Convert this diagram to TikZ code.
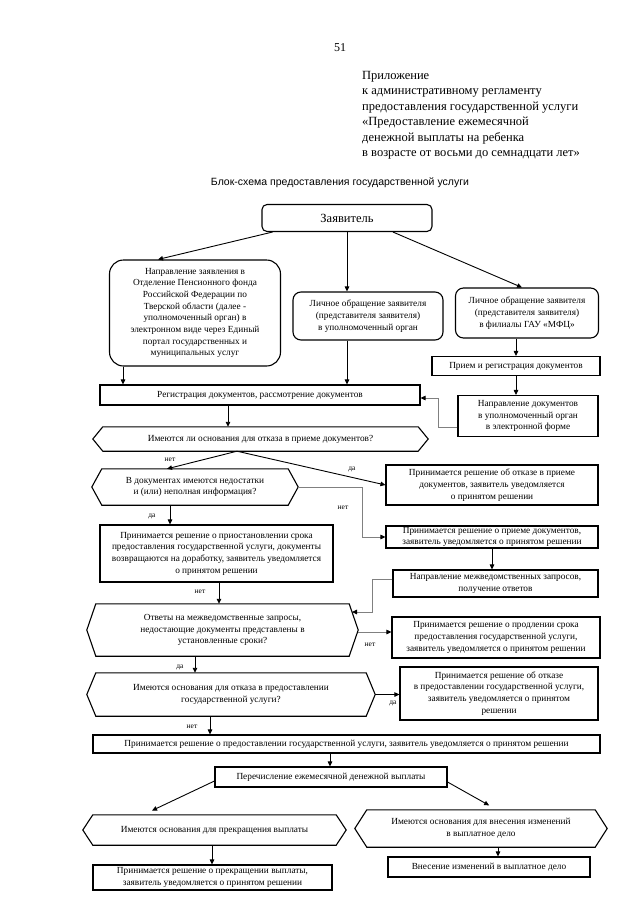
\documentclass[tikz,border=0pt]{standalone}
\usepackage{fontspec}
\setmainfont{Liberation Serif}
\newfontfamily\titlefont{Liberation Sans}
\usetikzlibrary{arrows.meta}
\newcommand\myhex[2]{\draw[line width=1.1pt] (#1.west) -- ([xshift=#2]#1.north west) -- ([xshift=-#2]#1.north east) -- (#1.east) -- ([xshift=-#2]#1.south east) -- ([xshift=#2]#1.south west) -- cycle;}
\begin{document}
\begin{tikzpicture}[x=1pt,y=-1pt,
  box/.style={draw=black, line width=1.1pt, align=center, inner sep=1pt, font=\fontsize{9.3}{11.7}\selectfont},
  rbox/.style={box, rounded corners=#1},
  hexnode/.style={align=center, inner sep=1pt, font=\fontsize{9.3}{11.7}\selectfont},
  conn/.style={line width=0.9pt, -{Triangle[length=5pt,width=4.5pt]}},
  gconn/.style={line width=0.9pt, draw=black!50, -{Triangle[length=5pt,width=4.5pt,color=black]}},
  lbl/.style={font=\fontsize{7.5}{9}\selectfont, inner sep=0pt},
]
\useasboundingbox[fill=white] (0,0) rectangle (640,905);

% header
\node[font=\fontsize{12}{14}\selectfont] (n51) at (340,48) {51};
\node[anchor=north west, align=left, inner sep=0pt, font=\fontsize{12.5}{15.5}\selectfont] (app) at (362,71)
 {Приложение\\ к административному регламенту\\ предоставления государственной услуги\\ «Предоставление ежемесячной\\ денежной выплаты на ребенка\\ в возрасте от восьми до семнадцати лет»};
\node[font=\titlefont\fontsize{10.5}{12}\selectfont] (title) at (340,183) {Блок-схема предоставления государственной услуги};

% nodes
\node[rbox=5pt, minimum width=170, minimum height=27, font=\fontsize{12.5}{14}\selectfont] (zaj) at (347,218) {Заявитель};
\node[rbox=14pt, minimum width=171, minimum height=106] (a) at (195,313) {Направление заявления в\\ Отделение Пенсионного фонда\\ Российской Федерации по\\ Тверской области (далее -\\ уполномоченный орган) в\\ электронном виде через Единый\\ портал государственных и\\ муниципальных услуг};
\node[rbox=8pt, minimum width=150, minimum height=48] (b) at (368,316) {Личное обращение заявителя\\ (представителя заявителя)\\ в уполномоченный орган};
\node[rbox=8pt, minimum width=143, minimum height=50] (c) at (527,313) {Личное обращение заявителя\\ (представителя заявителя)\\ в филиалы ГАУ «МФЦ»};
\node[box, minimum width=168, minimum height=19] (d) at (516,366) {Прием и регистрация документов};
\node[box, minimum width=140, minimum height=41] (e) at (528,416) {Направление документов\\ в уполномоченный орган\\ в электронной форме};
\node[box, minimum width=320, minimum height=20] (f) at (260,395) {Регистрация документов, рассмотрение документов};
\node[hexnode, minimum width=335, minimum height=24] (g) at (260.5,439) {Имеются ли основания для отказа в приеме документов?};
\myhex{g}{10}
\node[hexnode, minimum width=206, minimum height=36] (h) at (195,487) {В документах имеются недостатки\\ и (или) неполная информация?};
\myhex{h}{10}
\node[box, minimum width=212, minimum height=40] (i) at (492,485) {Принимается решение об отказе в приеме\\ документов, заявитель уведомляется\\ о принятом решении};
\node[box, minimum width=212, minimum height=22] (j) at (492,537) {Принимается решение о приеме документов,\\ заявитель уведомляется о принятом решении};
\node[box, minimum width=233, minimum height=57] (k) at (216.5,553.5) {Принимается решение о приостановлении срока\\ предоставления государственной услуги, документы\\ возвращаются на доработку, заявитель уведомляется\\ о принятом решении};
\node[box, minimum width=205, minimum height=27] (l) at (495.5,583.5) {Направление межведомственных запросов,\\ получение ответов};
\node[hexnode, minimum width=271, minimum height=52] (m) at (222.5,630) {Ответы на межведомственные запросы,\\ недостающие документы представлены в\\ установленные сроки?};
\myhex{m}{9}
\node[box, minimum width=208, minimum height=41] (n) at (496,637.5) {Принимается решение о продлении срока\\ предоставления государственной услуги,\\ заявитель уведомляется о принятом решении};
\node[hexnode, minimum width=288, minimum height=43] (o) at (231,694.5) {Имеются основания для отказа в предоставлении\\ государственной услуги?};
\myhex{o}{9}
\node[box, minimum width=198, minimum height=53] (p) at (499,693.5) {Принимается решение об отказе\\ в предоставлении государственной услуги,\\ заявитель уведомляется о принятом\\ решении};
\node[box, minimum width=507, minimum height=18] (q) at (346.5,744) {Принимается решение о предоставлении государственной услуги, заявитель уведомляется о принятом решении};
\node[box, minimum width=232, minimum height=20] (r) at (331,777) {Перечисление ежемесячной денежной выплаты};
\node[hexnode, minimum width=263, minimum height=30] (s) at (214.5,830) {Имеются основания для прекращения выплаты};
\myhex{s}{10}
\node[hexnode, minimum width=252, minimum height=37] (t) at (481,828.5) {Имеются основания для внесения изменений\\ в выплатное дело};
\myhex{t}{12}
\node[box, minimum width=239, minimum height=25] (u) at (212.5,877.5) {Принимается решение о прекращении выплаты,\\ заявитель уведомляется о принятом решении};
\node[box, minimum width=202, minimum height=20] (v) at (489,867) {Внесение изменений в выплатное дело};

% connectors
\draw[conn] ([xshift=11]zaj.south west) -- (158,0 |- a.north);
\draw[conn] (347,0 |- zaj.south) -- (347,0 |- b.north);
\draw[conn] (393,0 |- zaj.south) -- (522,0 |- c.north);
\draw[conn] (123,0 |- a.south) -- (123,0 |- f.north);
\draw[conn] (347,0 |- b.south) -- (347,0 |- f.north);
\draw[conn] (516,0 |- c.south) -- (516,0 |- d.north);
\draw[conn] (516,0 |- d.south) -- (516,0 |- e.north);
\draw[gconn] (e.west |- 0,427) -- (438,427) -- (438,398) -- (f.east |- 0,398);
\draw[conn] (228,0 |- f.south) -- (228,0 |- g.north);
\draw[conn] (237,0 |- g.south) -- (167,0 |- h.north);
\node[lbl] (l1) at (170,460) {нет};
\draw[conn] (237,0 |- g.south) -- (i.west);
\node[lbl] (l2) at (352,469) {да};
\draw[gconn] (h.east) -- (362,0 |- h.east) -- (362,0 |- j.west) -- (j.west);
\node[lbl] (l3) at (343,508) {нет};
\draw[conn] (170,0 |- h.south) -- (170,0 |- k.north);
\node[lbl] (l4) at (152,516) {да};
\draw[conn] (492,0 |- j.south) -- (492,0 |- l.north);
\draw[conn] (219,0 |- k.south) -- (219,0 |- m.north);
\node[lbl] (l5) at (200,592) {нет};
\draw[gconn] (l.west |- 0,579) -- (372,579) -- (372,612) -- (352,612);
\draw[gconn] (m.east |- 0,632) -- (n.west |- 0,632);
\node[lbl] (l6) at (370,645) {нет};
\draw[conn] (195,0 |- m.south) -- (195,0 |- o.north);
\node[lbl] (l7) at (180,667) {да};
\draw[conn] (o.east) -- (p.west |- o.east);
\node[lbl] (l8) at (393,703) {да};
\draw[conn] (210,0 |- o.south) -- (210,0 |- q.north);
\node[lbl] (l9) at (192,727) {нет};
\draw[conn] (330,0 |- q.south) -- (330,0 |- r.north);
\draw[conn, shorten >=10pt] (r.west |- 0,781) -- (143,0 |- s.north);
\draw[conn, shorten >=9pt] (r.east |- 0,782) -- (497,0 |- t.north);
\draw[conn] (212,0 |- s.south) -- (212,0 |- u.north);
\draw[conn] (498,0 |- t.south) -- (498,0 |- v.north);
\end{tikzpicture}
\end{document}
